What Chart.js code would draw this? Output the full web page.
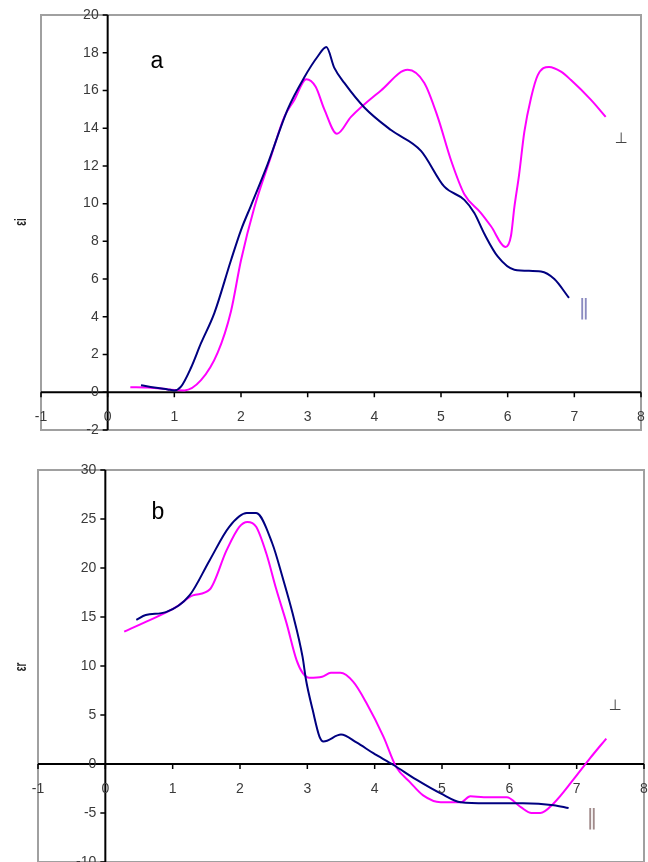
<!DOCTYPE html>
<html>
<head>
<meta charset="utf-8">
<script src="https://cdn.jsdelivr.net/npm/chart.js@4/dist/chart.umd.min.js"></script>
<style>
  html, body { margin:0; padding:0; background:#fff; }
  #wrap { position:relative; width:648px; height:862px; overflow:hidden; }
  canvas { position:absolute; left:0; }
</style>
</head>
<body>
<div id="wrap">
  <canvas id="ca" width="648" height="440" style="top:0"></canvas>
  <canvas id="cb" width="648" height="422" style="top:440px"></canvas>
</div>
<script>
// ---------- data ----------
const xTicks = [-1, 0, 1, 2, 3, 4, 5, 6, 7, 8];
const yTicksA = [-2, 0, 2, 4, 6, 8, 10, 12, 14, 16, 18, 20];
const yTicksB = [-10, -5, 0, 5, 10, 15, 20, 25, 30];

// panel a : epsilon_i
const aParX = [0.5, 0.7, 0.9, 1.0, 1.1, 1.25, 1.4, 1.6, 1.85, 2.0, 2.15, 2.4, 2.7, 2.95, 3.15, 3.28, 3.4, 3.55, 3.85, 4.25, 4.7, 5.05, 5.35, 5.5, 5.65, 5.85, 6.1, 6.5, 6.7, 6.92];
const aParY = [0.37, 0.25, 0.15, 0.1, 0.3, 1.3, 2.6, 4.2, 7.0, 8.6, 9.9, 12.1, 15.0, 16.7, 17.8, 18.3, 17.2, 16.4, 15.1, 13.9, 12.8, 10.9, 10.2, 9.5, 8.4, 7.2, 6.5, 6.4, 6.0, 5.0];
const aPerX = [0.34, 0.6, 0.8, 1.0, 1.15, 1.4, 1.65, 1.85, 2.0, 2.2, 2.45, 2.65, 2.8, 2.98, 3.12, 3.25, 3.44, 3.65, 4.1, 4.5, 4.75, 4.95, 5.15, 5.35, 5.6, 5.75, 5.97, 6.05, 6.1, 6.17, 6.25, 6.35, 6.45, 6.62, 6.8, 6.95, 7.25, 7.47];
const aPerY = [0.27, 0.25, 0.2, 0.12, 0.1, 0.64, 2.1, 4.3, 7.0, 9.8, 12.5, 14.6, 15.5, 16.6, 16.2, 15.0, 13.7, 14.6, 16.0, 17.1, 16.4, 14.6, 12.3, 10.5, 9.5, 8.8, 7.7, 8.3, 9.8, 11.5, 13.8, 15.6, 16.8, 17.25, 17.0, 16.55, 15.5, 14.6];

// panel b : epsilon_r
const bParX = [0.46, 0.6, 0.9, 1.25, 1.55, 1.84, 2.1, 2.24, 2.48, 2.63, 2.78, 2.93, 2.98, 3.08, 3.18, 3.24, 3.5, 3.73, 3.98, 4.28, 4.62, 4.98, 5.28, 5.66, 6.2, 6.66, 6.88];
const bParY = [14.7, 15.2, 15.5, 17.2, 20.8, 24.2, 25.6, 25.6, 22.5, 19.1, 15.4, 10.9, 8.6, 5.5, 2.8, 2.3, 3.0, 2.2, 1.1, -0.1, -1.6, -3.0, -3.9, -4.0, -4.0, -4.2, -4.5];
const bPerX = [0.28, 0.6, 1.05, 1.3, 1.55, 1.8, 1.99, 2.11, 2.24, 2.39, 2.54, 2.69, 2.84, 2.93, 3.03, 3.22, 3.35, 3.49, 3.68, 3.88, 4.13, 4.32, 4.53, 4.72, 4.98, 5.28, 5.42, 5.62, 5.96, 6.17, 6.33, 6.46, 6.66, 6.95, 7.2, 7.44];
const bPerY = [13.5, 14.5, 16.0, 17.2, 17.8, 21.8, 24.2, 24.7, 24.2, 21.5, 17.8, 14.4, 10.6, 9.3, 8.8, 8.9, 9.3, 9.3, 8.4, 6.2, 2.8, -0.3, -1.9, -3.2, -3.9, -3.9, -3.3, -3.4, -3.4, -4.4, -5.0, -5.0, -4.0, -1.6, 0.6, 2.6];

const BLUE = '#000080';
const MAGENTA = '#ff00ff';

function pts(xs, ys) { return xs.map((x, i) => ({ x: x, y: ys[i] })); }

// ---------- custom axes plugin (axes cross at zero) ----------
const zeroAxes = {
  id: 'zeroAxes',
  beforeDatasetsDraw(chart) {
    const { ctx, chartArea: ca, scales: { x, y } } = chart;
    ctx.save();
    ctx.strokeStyle = '#a0a0a0';
    ctx.lineWidth = 2;
    ctx.strokeRect(ca.left, ca.top, ca.right - ca.left, ca.bottom - ca.top);
    const x0 = x.getPixelForValue(0), y0 = y.getPixelForValue(0);
    ctx.strokeStyle = '#000';
    ctx.lineWidth = 2;
    ctx.beginPath();
    ctx.moveTo(ca.left, y0); ctx.lineTo(ca.right, y0);
    ctx.moveTo(x0, ca.top); ctx.lineTo(x0, ca.bottom);
    ctx.stroke();
    ctx.lineWidth = 1.5;
    ctx.beginPath();
    xTicks.forEach(v => { const px = x.getPixelForValue(v); ctx.moveTo(px, y0); ctx.lineTo(px, y0 + 5); });
    chart.options.plugins.zeroAxes.yTicks.forEach(v => { const py = y.getPixelForValue(v); ctx.moveTo(x0 - 5, py); ctx.lineTo(x0, py); });
    ctx.stroke();
    ctx.restore();
  },
  afterDraw(chart, args, opts) {
    const { ctx, chartArea: ca, scales: { x, y } } = chart;
    const x0 = x.getPixelForValue(0), y0 = y.getPixelForValue(0);
    ctx.save();
    ctx.fillStyle = '#3a3a3a';
    ctx.font = '14px "Liberation Sans", Arial, sans-serif';
    ctx.textAlign = 'center';
    ctx.textBaseline = 'middle';
    xTicks.forEach(v => ctx.fillText(String(v), x.getPixelForValue(v), y0 + 25));
    ctx.textAlign = 'right';
    opts.yTicks.forEach(v => ctx.fillText(String(v), x0 - 9, y.getPixelForValue(v)));
    // axis title (rotated)
    ctx.save();
    ctx.translate(opts.titleX, opts.titleY);
    ctx.rotate(-Math.PI / 2);
    ctx.scale(1, 1.6);
    ctx.fillStyle = '#222';
    ctx.font = 'bold 10px "Liberation Sans", Arial, sans-serif';
    ctx.textAlign = 'center';
    ctx.textBaseline = 'middle';
    ctx.fillText(opts.title, 0, 0);
    ctx.restore();
    // panel letter
    ctx.fillStyle = '#000';
    ctx.font = '23px "Liberation Sans", Arial, sans-serif';
    ctx.textAlign = 'center';
    ctx.fillText(opts.letter, opts.letterX, opts.letterY);
    // curve labels
    ctx.fillStyle = '#444';
    ctx.font = '15px "DejaVu Sans", sans-serif';
    ctx.fillText('\u22A5', opts.perpX, opts.perpY);
    ctx.fillStyle = opts.parColor;
    ctx.font = '22px "DejaVu Sans", sans-serif';
    ctx.fillText('\u2016', opts.parX, opts.parY);
    ctx.restore();
  }
};

function makeChart(id, parX, parY, perX, perY, ymin, ymax, padding, extra) {
  return new Chart(document.getElementById(id), {
    type: 'line',
    data: {
      datasets: [
        { label: '\u2016', data: pts(parX, parY), borderColor: BLUE, borderWidth: 2, pointRadius: 0, cubicInterpolationMode: 'monotone', fill: false },
        { label: '\u22A5', data: pts(perX, perY), borderColor: MAGENTA, borderWidth: 2, pointRadius: 0, cubicInterpolationMode: 'monotone', fill: false }
      ]
    },
    options: {
      responsive: false,
      animation: false,
      layout: { padding: padding },
      scales: {
        x: { type: 'linear', min: -1, max: 8, display: false },
        y: { type: 'linear', min: ymin, max: ymax, display: false }
      },
      plugins: {
        legend: { display: false },
        tooltip: { enabled: false },
        zeroAxes: extra
      }
    },
    plugins: [zeroAxes]
  });
}

makeChart('ca', aParX, aParY, aPerX, aPerY, -2, 20,
  { left: 41, top: 15, right: 7, bottom: 10 },
  { yTicks: yTicksA, title: '\u03B5i', titleX: 22, titleY: 222, letter: 'a', letterX: 157, letterY: 62,
    perpX: 621, perpY: 139, parX: 584, parY: 308, parColor: '#8a8ac0' });

makeChart('cb', bParX, bParY, bPerX, bPerY, -10, 30,
  { left: 38, top: 30, right: 4, bottom: 0 },
  { yTicks: yTicksB, title: '\u03B5r', titleX: 22, titleY: 227, letter: 'b', letterX: 158, letterY: 73,
    perpX: 615, perpY: 266, parX: 592, parY: 378, parColor: '#a08a8a' });
</script>
</body>
</html>
